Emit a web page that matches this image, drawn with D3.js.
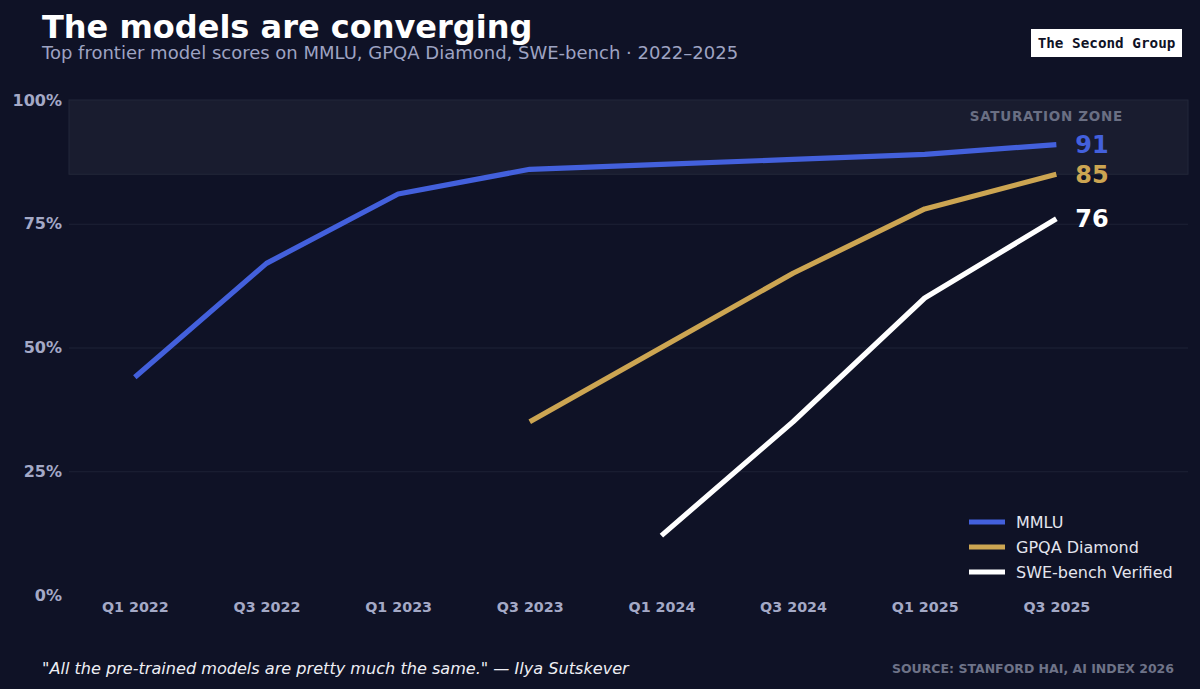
<!DOCTYPE html>
<html>
<meta charset="utf-8">
<style>
    body { margin: 0; background: #0f1226; }
    svg { display: block; }
</style>
<body>
<svg width="1200" height="689"></svg>
<script src="https://d3js.org/d3.v7.min.js"></script>
<script>

    // data
    let quarters = ["Q1 2022", "Q3 2022", "Q1 2023", "Q3 2023", "Q1 2024", "Q3 2024", "Q1 2025", "Q3 2025"];
    let mmlu = [44, 67, 81, 86, 87, 88, 89, 91];
    let gpqa = [null, null, null, 35, 50, 65, 78, 85];
    let swe = [null, null, null, null, 12, 35, 60, 76];
    let yTicks = [0, 25, 50, 75, 100];
    let seriesNames = ["MMLU", "GPQA Diamond", "SWE-bench Verified"];
    let seriesColors = ["#4360dc", "#cca552", "#ffffff"];
    let saturation = [85, 100];

    let svg = d3.select("svg"),
        margin = {top: 100, right: 12, bottom: 94, left: 69},
        width = +svg.attr("width") - margin.left - margin.right,
        height = +svg.attr("height") - margin.top - margin.bottom,
        g = svg.append("g").attr("transform", "translate(" + margin.left + "," + margin.top + ")");

    svg.insert("rect", ":first-child")
        .attr("width", 1200).attr("height", 689).attr("fill", "#0f1226");

    let x = d3.scaleLinear()
        .domain([-0.5, quarters.length])
        .range([0, width]);

    let y = d3.scaleLinear()
        .domain([0, 100])
        .range([height, 0]);

    // saturation zone
    g.append("rect")
        .attr("x", 0)
        .attr("y", y(saturation[1]))
        .attr("width", width)
        .attr("height", y(saturation[0]) - y(saturation[1]))
        .attr("fill", "#191c2f")
        .attr("stroke", "#23273a")
        .attr("stroke-width", 1);

    g.append("text")
        .attr("x", x(7) - 10)
        .attr("y", y(95.8))
        .attr("text-anchor", "middle")
        .attr("font-family", "DejaVu Sans")
        .attr("font-weight", "bold")
        .attr("font-size", 13.5)
        .attr("letter-spacing", 0.7)
        .attr("fill", "#6a6f83")
        .text("SATURATION ZONE");

    // grid
    g.append("g")
        .selectAll("line")
        .data(yTicks.filter(function (d) { return d > 0 && d < 100; }))
        .enter().append("line")
        .attr("x1", 0)
        .attr("x2", width)
        .attr("y1", function (d) { return y(d) + 0.5; })
        .attr("y2", function (d) { return y(d) + 0.5; })
        .attr("stroke", "#1e2236")
        .attr("stroke-width", 1);

    // y axis
    let yAxis = g.append("g")
        .call(d3.axisLeft(y).tickValues(yTicks).tickSize(0).tickPadding(7)
            .tickFormat(function (d) { return d + "%"; }));
    yAxis.select(".domain").remove();
    yAxis.selectAll("text")
        .attr("font-family", "DejaVu Sans")
        .attr("font-weight", "bold")
        .attr("font-size", 16)
        .attr("fill", "#a4a9c6");

    // x axis
    let xAxis = g.append("g")
        .attr("transform", "translate(0," + height + ")")
        .call(d3.axisBottom(x).tickValues(d3.range(quarters.length)).tickSize(0).tickPadding(7)
            .tickFormat(function (d) { return quarters[d]; }));
    xAxis.select(".domain").remove();
    xAxis.selectAll("text")
        .attr("font-family", "DejaVu Sans")
        .attr("font-weight", "bold")
        .attr("font-size", 14.3)
        .attr("fill", "#a4a9c6");

    // lines
    let series = [mmlu, gpqa, swe];
    let line = d3.line()
        .defined(function (d) { return d != null; })
        .x(function (d, i) { return x(i); })
        .y(function (d) { return y(d); });

    g.append("g")
        .selectAll("path")
        .data(series)
        .enter().append("path")
        .attr("d", line)
        .attr("fill", "none")
        .attr("stroke", function (d, i) { return seriesColors[i]; })
        .attr("stroke-width", 5.2)
        .attr("stroke-linejoin", "round");

    // end labels
    g.append("g")
        .selectAll("text")
        .data(series)
        .enter().append("text")
        .attr("x", x(quarters.length - 1) + 19)
        .attr("y", function (d) { return y(d[d.length - 1]); })
        .attr("dy", "0.36em")
        .attr("font-family", "DejaVu Sans")
        .attr("font-weight", "bold")
        .attr("font-size", 24)
        .attr("fill", function (d, i) { return seriesColors[i]; })
        .text(function (d) { return d[d.length - 1]; });

    // legend
    let legend = g.append("g")
        .selectAll("g")
        .data(seriesNames)
        .enter().append("g")
        .attr("transform", function (d, i) {
            return "translate(900," + (422 + i * 25) + ")";
        });

    legend.append("line")
        .attr("x1", 0).attr("x2", 36)
        .attr("y1", 0).attr("y2", 0)
        .attr("stroke", function (d, i) { return seriesColors[i]; })
        .attr("stroke-width", 5);

    legend.append("text")
        .attr("x", 47)
        .attr("dy", "0.36em")
        .attr("font-family", "DejaVu Sans")
        .attr("font-size", 16)
        .attr("fill", "#e4e5ee")
        .text(function (d) { return d; });

    // titles
    svg.append("text")
        .attr("x", 42).attr("y", 38)
        .attr("font-family", "DejaVu Sans")
        .attr("font-weight", "bold")
        .attr("font-size", 32)
        .attr("fill", "#ffffff")
        .text("The models are converging");

    svg.append("text")
        .attr("x", 42).attr("y", 59)
        .attr("font-family", "DejaVu Sans")
        .attr("font-size", 18)
        .attr("fill", "#9ea3c2")
        .text("Top frontier model scores on MMLU, GPQA Diamond, SWE-bench \u00b7 2022\u20132025");

    // brand box
    svg.append("rect")
        .attr("x", 1031).attr("y", 29)
        .attr("width", 151).attr("height", 28)
        .attr("fill", "#ffffff");

    svg.append("text")
        .attr("x", 1106.5).attr("y", 48)
        .attr("text-anchor", "middle")
        .attr("font-family", "DejaVu Sans Mono")
        .attr("font-weight", "bold")
        .attr("font-size", 14.3)
        .attr("fill", "#0f1226")
        .text("The Second Group");

    // footer
    svg.append("text")
        .attr("x", 42).attr("y", 674)
        .attr("font-family", "DejaVu Sans")
        .attr("font-style", "italic")
        .attr("font-size", 16.1)
        .attr("fill", "#eeeef4")
        .text("\"All the pre-trained models are pretty much the same.\" \u2014 Ilya Sutskever");

    svg.append("text")
        .attr("x", 1174).attr("y", 673)
        .attr("text-anchor", "end")
        .attr("font-family", "DejaVu Sans")
        .attr("font-weight", "bold")
        .attr("font-size", 12.5)
        .attr("fill", "#6e7388")
        .text("SOURCE: STANFORD HAI, AI INDEX 2026");

</script>
</body>
</html>
